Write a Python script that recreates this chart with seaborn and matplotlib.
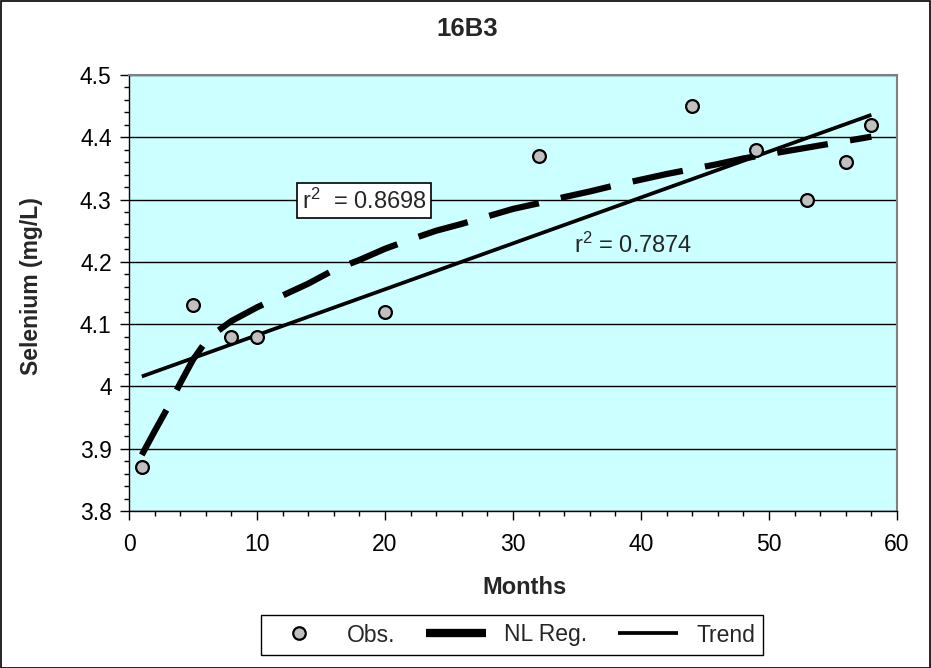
import matplotlib
matplotlib.use("Agg")
import matplotlib.pyplot as plt
import numpy as np
import pandas as pd
import seaborn as sns
from matplotlib.lines import Line2D
from matplotlib.patches import Rectangle
from matplotlib.ticker import FixedLocator, FixedFormatter, MultipleLocator

# ---- data ----
months_obs = [1, 5, 8, 10, 20, 32, 44, 49, 53, 56, 58]
selenium_obs = [3.87, 4.13, 4.08, 4.08, 4.12, 4.37, 4.45, 4.38, 4.30, 4.36, 4.42]

nl_months = [1, 2, 3, 4, 5, 6, 7, 8, 10, 12, 14, 16, 18, 20, 22, 24, 26, 28, 30,
             32, 34, 36, 38, 40, 42, 44, 46, 48, 50, 52, 54, 56, 58]
nl_values = [3.890, 3.928, 3.965, 4.005, 4.043, 4.072, 4.090, 4.105, 4.127, 4.146,
             4.165, 4.187, 4.203, 4.221, 4.236, 4.250, 4.261, 4.273, 4.285,
             4.294, 4.304, 4.313, 4.323, 4.332, 4.341, 4.349, 4.357, 4.366,
             4.373, 4.380, 4.387, 4.394, 4.401]

trend_months = [1, 58]
trend_values = [4.016, 4.436]

y_ticks = [3.8, 3.9, 4.0, 4.1, 4.2, 4.3, 4.4, 4.5]
y_tick_labels = ["3.8", "3.9", "4", "4.1", "4.2", "4.3", "4.4", "4.5"]
x_ticks = [0, 10, 20, 30, 40, 50, 60]
x_tick_labels = ["0", "10", "20", "30", "40", "50", "60"]

r2_nl = "0.8698"
r2_trend = "0.7874"
legend_labels = ["Obs.", "NL Reg.", "Trend"]

# ---- style ----
sns.set_style("white")
plt.rcParams['font.family'] = ['Liberation Sans', 'DejaVu Sans']
plt.rcParams['mathtext.fontset'] = 'custom'
plt.rcParams['mathtext.rm'] = 'Liberation Sans'
plt.rcParams['mathtext.it'] = 'Liberation Sans'

W, H = 931, 668
fig = plt.figure(figsize=(W / 100, H / 100), dpi=100)
fig.patch.set_facecolor('white')

ax = fig.add_axes([129 / W, 1 - 511 / H, (897 - 129) / W, (511 - 75) / H])
ax.set_facecolor('#CCFFFF')

obs_df = pd.DataFrame({"Months": months_obs, "Selenium": selenium_obs})
nl_df = pd.DataFrame({"Months": nl_months, "Selenium": nl_values})
tr_df = pd.DataFrame({"Months": trend_months, "Selenium": trend_values})

sns.lineplot(data=tr_df, x="Months", y="Selenium", ax=ax, color='black',
             linewidth=2.7, sort=False, estimator=None, zorder=3,
             solid_capstyle='butt')
sns.lineplot(data=nl_df, x="Months", y="Selenium", ax=ax, color='black',
             linewidth=4.5, linestyle=(0, (8.2, 3.6)), sort=False,
             estimator=None, zorder=3, dash_capstyle='butt')
sns.scatterplot(data=obs_df, x="Months", y="Selenium", ax=ax, s=85,
                color='#C0C0C0', edgecolor='black', linewidth=1.6, zorder=4)

ax.set_xlim(0, 60)
ax.set_ylim(3.8, 4.5)
ax.xaxis.set_major_locator(FixedLocator(x_ticks))
ax.xaxis.set_major_formatter(FixedFormatter(x_tick_labels))
ax.xaxis.set_minor_locator(MultipleLocator(2))
ax.yaxis.set_major_locator(FixedLocator(y_ticks))
ax.yaxis.set_major_formatter(FixedFormatter(y_tick_labels))
ax.yaxis.set_minor_locator(MultipleLocator(0.02))

ax.tick_params(which='major', direction='out', length=6.5, width=1.0,
               color='black', labelsize=16.5, labelcolor='black')
ax.tick_params(axis='x', which='major', pad=9)
ax.tick_params(axis='y', which='major', pad=6)
ax.tick_params(which='minor', direction='out', length=3.5, width=1.0, color='black')
ax.tick_params(left=True, bottom=True, which='both')

ax.grid(axis='y', which='major', color='black', linewidth=1.0)
ax.grid(axis='x', visible=False)
ax.set_axisbelow(True)

for side in ['top', 'right']:
    ax.spines[side].set_color('#808080')
    ax.spines[side].set_linewidth(1.5)
for side in ['left', 'bottom']:
    ax.spines[side].set_color('black')
    ax.spines[side].set_linewidth(1.0)

ax.set_xlabel("")
ax.set_ylabel("")
fig.text(525 / W, 1 - 587 / H, "Months", ha='center', va='center',
         fontsize=17, fontweight='bold')
fig.text(32 / W, 1 - 286 / H, "Selenium (mg/L)", ha='center', va='center',
         rotation=90, fontsize=16.5, fontweight='bold')
fig.text(467 / W, 1 - 29 / H, "16B3", ha='center', va='center',
         fontsize=18.5, fontweight='bold')

ax.text(13.5, 4.298, r"$\mathregular{r^2}$  = " + r2_nl, ha='left', va='center',
        fontsize=17, zorder=6,
        bbox=dict(boxstyle='square,pad=0.2', facecolor='white',
                  edgecolor='black', linewidth=1.2))
ax.text(34.8, 4.227, r"$\mathregular{r^2}$ = " + r2_trend, ha='left', va='center',
        fontsize=17, zorder=6)

handles = [
    Line2D([], [], marker='o', linestyle='', markerfacecolor='#C0C0C0',
           markeredgecolor='black', markeredgewidth=1.6, markersize=9),
    Line2D([], [], color='black', linewidth=6, solid_capstyle='butt'),
    Line2D([], [], color='black', linewidth=2.7, solid_capstyle='butt'),
]
leg = fig.legend(handles, legend_labels, ncol=3, loc='center',
                 bbox_to_anchor=(512 / W, 1 - 635 / H), frameon=True,
                 fancybox=False, edgecolor='black', framealpha=1,
                 fontsize=16.5, handlelength=2.6, handletextpad=0.8,
                 columnspacing=1.35, borderpad=0.35)
leg.get_frame().set_linewidth(1.0)

fig.add_artist(Rectangle((0.5 / W, 0.5 / H), (W - 1.5) / W, (H - 1.5) / H,
                         transform=fig.transFigure, fill=False,
                         edgecolor='black', linewidth=1.2))

fig.savefig("out.png", dpi=100, facecolor='white')
